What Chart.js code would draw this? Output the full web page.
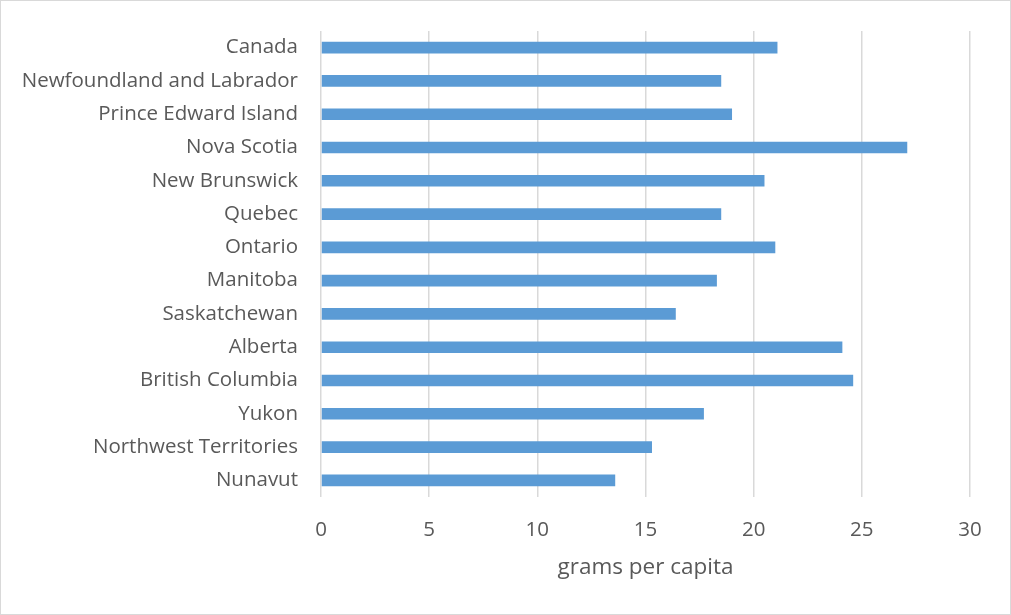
<!DOCTYPE html>
<html>
<head>
<meta charset="utf-8">
<script src="https://cdn.jsdelivr.net/npm/chart.js@4/dist/chart.umd.min.js"></script>
<style>
    html, body { margin: 0; padding: 0; background: #ffffff; }
    .frame {
        width: 1011px;
        height: 615px;
        box-sizing: border-box;
        border: 1px solid #d9d9d9;
        position: relative;
    }
    canvas { display: block; }
</style>
</head>
<body>
<div class="frame">
    <canvas id="chart" width="1009" height="613"></canvas>
</div>
<script>
const regions = [
    'Canada',
    'Newfoundland and Labrador',
    'Prince Edward Island',
    'Nova Scotia',
    'New Brunswick',
    'Quebec',
    'Ontario',
    'Manitoba',
    'Saskatchewan',
    'Alberta',
    'British Columbia',
    'Yukon',
    'Northwest Territories',
    'Nunavut'
];
const gramsPerCapita = [21.1, 18.5, 19.0, 27.1, 20.5, 18.5, 21.0, 18.3, 16.4, 24.1, 24.6, 17.7, 15.3, 13.6];
const axisTitle = 'grams per capita';

const TEXT_COLOR = '#595959';
const GRID_COLOR = '#d9d9d9';
const BAR_COLOR = '#5b9bd5';
const FONT_FAMILY = "'Open Sans', 'Noto Sans', sans-serif";
const FONT = { family: FONT_FAMILY, size: 20.5 };
const TITLE_FONT = { family: FONT_FAMILY, size: 22.5 };

const canvas = document.getElementById('chart');
new Chart(canvas, {
    type: 'bar',
    data: {
        labels: regions,
        datasets: [
            {
                data: gramsPerCapita,
                backgroundColor: BAR_COLOR,
                borderWidth: 0,
                barPercentage: 0.35,
                categoryPercentage: 1
            }
        ]
    },
    options: {
        indexAxis: 'y',
        responsive: false,
        animation: false,
        layout: {
            padding: { left: 0, right: 40, top: 30, bottom: 0 }
        },
        plugins: {
            legend: { display: false },
            tooltip: { enabled: false }
        },
        scales: {
            x: {
                min: 0,
                max: 30,
                ticks: {
                    stepSize: 5,
                    color: TEXT_COLOR,
                    font: FONT,
                    padding: 21
                },
                grid: {
                    color: GRID_COLOR,
                    lineWidth: 1.5,
                    drawTicks: false
                },
                border: { display: false },
                title: {
                    display: true,
                    text: axisTitle,
                    color: TEXT_COLOR,
                    font: TITLE_FONT,
                    padding: { top: 0, bottom: 32.5 }
                },
                afterFit: (scale) => {
                    scale.height = 117;
                    scale.paddingLeft = 0;
                    scale.paddingRight = 0;
                }
            },
            y: {
                ticks: {
                    color: TEXT_COLOR,
                    font: FONT,
                    padding: 23
                },
                grid: {
                    display: false,
                    drawTicks: false
                },
                border: { display: false },
                afterFit: (scale) => {
                    scale.width = 320;
                    scale.paddingTop = 0;
                    scale.paddingBottom = 0;
                }
            }
        }
    }
});
</script>
</body>
</html>
